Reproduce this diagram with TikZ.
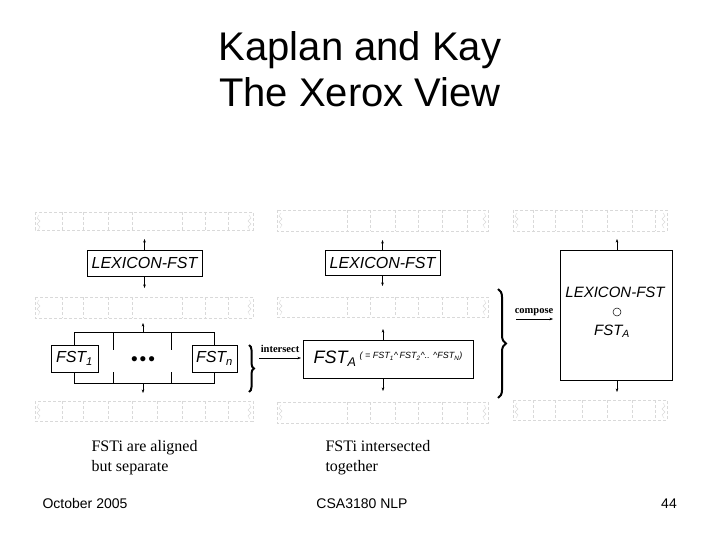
\documentclass[tikz,border=0pt]{standalone}
\usepackage{fontspec}
\setmainfont{Liberation Sans}
\newfontfamily\notefont{Liberation Serif}
\usetikzlibrary{arrows.meta, decorations.pathreplacing}

\tikzset{
  tapeline/.style={gray!30, dash pattern=on 3bp off 2bp, line width=0.5bp},
  tapeend/.style={gray!30, line width=0.4bp},
  fstbox/.style={draw, line width=0.6bp, inner sep=0pt, font=\fontsize{16bp}{16bp}\selectfont\itshape},
  stub/.style={-{Stealth[length=3.5bp,width=2.6bp]}, line width=0.5bp},
  opname/.style={font=\notefont\bfseries\fontsize{10.5bp}{10.5bp}\selectfont},
  bigbrace/.style={decorate, decoration={brace, amplitude=#1}, line width=2bp},
  note/.style={anchor=north west, align=left, font=\notefont\fontsize{16bp}{20bp}\selectfont},
  foot/.style={anchor=base, font=\fontsize{14bp}{14bp}\selectfont}
}

% a dashed tape: x left, x right, y top, y bottom, divider list
\newcommand{\tapestrip}[5]{%
  \draw[tapeline] (#1,#3) rectangle (#2,#4);
  \foreach \d in {#5} \draw[tapeline] (\d,#3) -- (\d,#4);
  \draw[tapeend] ({#1+4},{#3+3}) -- ++(-2,3) -- ++(3,3) -- ++(-3,3) -- ++(3,3) -- ++(-2,3);
  \draw[tapeend] ({#2-4},{#3+3}) -- ++(2,3) -- ++(-3,3) -- ++(3,3) -- ++(-3,3) -- ++(2,3);
}

\begin{document}
\begin{tikzpicture}[x=1bp, y=-1bp]
\useasboundingbox (0,0) rectangle (720,540);

% title
\node[anchor=base, font=\fontsize{40bp}{40bp}\selectfont] (title1) at (360,61) {Kaplan and Kay};
\node[anchor=base, font=\fontsize{40bp}{40bp}\selectfont] (title2) at (360,107) {The Xerox View};

% aligned (left)
\tapestrip{35}{253}{212}{230}{62,83,108,132,182,205,228}
\node[fstbox, minimum width=115bp, minimum height=26bp] (lexA) at (144.5,263) {LEXICON-FST};
\coordinate (lexAup) at (144.5,239);
\coordinate (lexAdown) at (144.5,288);
\draw[stub] (lexA.north) -- (lexAup);
\draw[stub] (lexA.south) -- (lexAdown);
\tapestrip{35}{253}{297}{318}{62,83,108,132,182,205,228}

\node[fstbox, minimum width=47bp, minimum height=27bp] (fstOne) at (74.5,358.5) {FST\textsubscript{1}};
\node[fstbox, minimum width=45bp, minimum height=27bp] (fstN) at (214.5,358.5) {FST\textsubscript{n}};
\node[font=\fontsize{19bp}{19bp}\selectfont] (dots) at (143,361) {\textbullet\hspace{2bp}\textbullet\hspace{2bp}\textbullet};
\draw[line width=0.6bp] (fstOne.north) -- ++(0,-12) coordinate (frameTop) -| (fstN.north);
\draw[line width=0.6bp] (fstOne.south) -- ++(0,11) coordinate (frameBot) -| (fstN.south);
\draw[line width=0.6bp] (113,333) -- (113,350) (171,333) -- (171,350);
\draw[line width=0.6bp] (113,372) -- (113,383) (171,372) -- (171,383);
\coordinate (frameUpFrom) at (143,333);
\coordinate (frameUp) at (143,323);
\coordinate (frameDownFrom) at (143,383);
\coordinate (frameDown) at (143,393);
\draw[stub] (frameUpFrom) -- (frameUp);
\draw[stub] (frameDownFrom) -- (frameDown);
\tapestrip{35}{253}{401}{421}{62,83,108,132,157,182,205,228}
\draw[bigbrace=5bp] (249,345) -- (249,392);

% intersect
\node[opname] (isect) at (280,349) {intersect};
\coordinate (isectL) at (259,358);
\coordinate (isectR) at (301,358);
\draw[stub] (isectL) -- (isectR);

% intersected (middle)
\tapestrip{277}{488}{210}{231}{347,370,395,418,442,467}
\node[fstbox, minimum width=115bp, minimum height=25bp] (lexB) at (382.5,262.5) {LEXICON-FST};
\coordinate (lexBup) at (382.5,240);
\coordinate (lexBdown) at (382.5,286);
\draw[stub] (lexB.north) -- (lexBup);
\draw[stub] (lexB.south) -- (lexBdown);
\tapestrip{277}{488}{297}{317}{347,370,395,418,442,467}
\node[fstbox, minimum width=170bp, minimum height=38bp, font=\fontsize{18bp}{18bp}\selectfont\itshape] (fstA) at (388,359)
  {FST\textsubscript{A}\,\raisebox{5bp}{\fontsize{9bp}{9bp}\selectfont( = FST\textsubscript{1}\textasciicircum\,FST\textsubscript{2}\textasciicircum.. \textasciicircum FST\textsubscript{N})}};
\coordinate (fstAup) at (383,329);
\coordinate (fstAdown) at (383,391);
\draw[stub] (fstA.north -| fstAup) -- (fstAup);
\draw[stub] (fstA.south -| fstAdown) -- (fstAdown);
\tapestrip{277}{488}{402}{423}{347,370,395,418,442,467}
\draw[bigbrace=8bp] (498,289) -- (498,398);

% compose
\node[opname] (comp) at (534,312) {compose};
\coordinate (compL) at (516,319);
\coordinate (compR) at (553,319);
\draw[stub] (compL) -- (compR);

% composed (right)
\tapestrip{513}{667}{210}{231}{533,555,582,607,632,655}
\node[draw, line width=0.6bp, minimum width=112bp, minimum height=130bp] (bigbox) at (616,315) {};
\node[font=\fontsize{15bp}{15bp}\selectfont\itshape, inner sep=1bp] (lexC) at (615,292) {LEXICON-FST};
\node[circle, draw, line width=0.5bp, minimum size=8bp, inner sep=0pt] (circ) at (617,312) {};
\node[font=\fontsize{15bp}{15bp}\selectfont\itshape, inner sep=1bp] (fstC) at (612,331) {FST\textsubscript{A}};
\coordinate (bigUp) at (617,239);
\coordinate (bigDown) at (617,392);
\draw[stub] (bigbox.north -| bigUp) -- (bigUp);
\draw[stub] (bigbox.south -| bigDown) -- (bigDown);
\tapestrip{513}{667}{400}{420}{533,555,582,607,632,655}

% captions
\node[note] (capA) at (88,437) {FSTi are aligned\\but separate};
\node[note] (capB) at (322,437) {FSTi intersected\\together};

% footer
\node[foot] (date) at (85,508) {October 2005};
\node[foot] (course) at (362,508) {CSA3180 NLP};
\node[foot] (page) at (669,508) {44};
\end{tikzpicture}
\end{document}
